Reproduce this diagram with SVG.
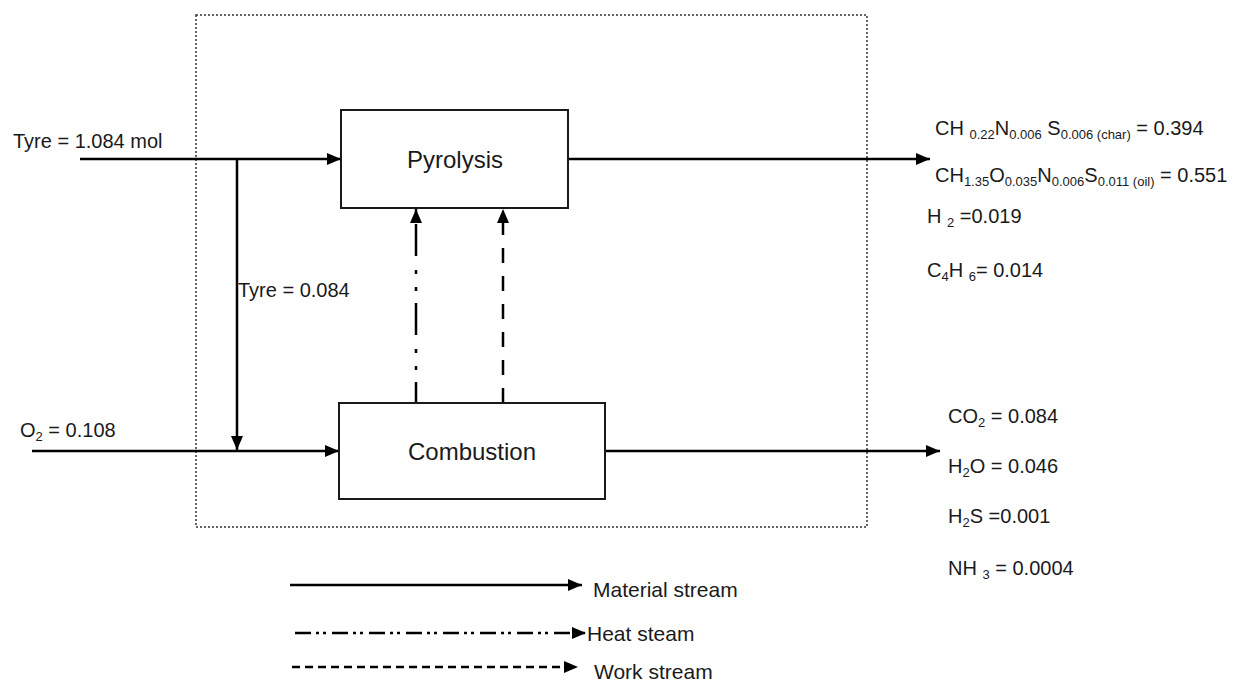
<svg xmlns="http://www.w3.org/2000/svg" width="1235" height="682" viewBox="0 0 1235 682">
<defs>
<marker id="ah" markerUnits="userSpaceOnUse" markerWidth="14" markerHeight="12" refX="14" refY="6" orient="auto"><path d="M0,0 L14,6 L0,12 z" fill="#000"/></marker>
<style>
text{font-family:"Liberation Sans",Arial,sans-serif;fill:#1a1a1a;font-size:20px}
.sub{font-size:13px}
.box{fill:#fff;stroke:#1a1a1a;stroke-width:2}
.flow{stroke:#000;stroke-width:2.5;fill:none}
.heat{stroke-dasharray:32 12 4 13 4 14}
.work{stroke-dasharray:15 13}
.lbl{font-size:24px}
.leg{font-size:21px}
</style>
</defs>
<rect width="1235" height="682" fill="#fff"/>
<rect id="boundary" x="196" y="15" width="671" height="512" fill="none" stroke="#333" stroke-width="1.5" stroke-dasharray="2 2"/>
<g id="connectors">
<line class="flow" x1="80" y1="159" x2="341" y2="159" marker-end="url(#ah)"/>
<line class="flow" x1="237" y1="159" x2="237" y2="450" marker-end="url(#ah)"/>
<line class="flow" x1="32" y1="451" x2="339" y2="451" marker-end="url(#ah)"/>
<line class="flow" x1="568" y1="159" x2="930" y2="159" marker-end="url(#ah)"/>
<line class="flow" x1="605" y1="451" x2="940" y2="451" marker-end="url(#ah)"/>
<line class="flow heat" x1="416" y1="403" x2="416" y2="209" stroke-dashoffset="11" marker-end="url(#ah)"/>
<line class="flow work" x1="503" y1="403" x2="503" y2="209" marker-end="url(#ah)"/>
</g>
<g id="pyrolysis">
<rect class="box" x="341" y="110" width="227" height="98"/>
<text class="lbl" x="455" y="168" text-anchor="middle">Pyrolysis</text>
</g>
<g id="combustion">
<rect class="box" x="339" y="403" width="266" height="96"/>
<text class="lbl" x="472" y="460" text-anchor="middle">Combustion</text>
</g>
<g id="inputs">
<text x="13" y="148" font-size="20.5">Tyre = 1.084 mol</text>
<text x="238" y="297">Tyre = 0.084</text>
<text x="20" y="437">O<tspan class="sub" dy="4">2</tspan><tspan dy="-4"> = 0.108</tspan></text>
</g>
<g id="pyrolysis-products">
<text x="935" y="135">CH <tspan class="sub" dy="4">0.22</tspan><tspan dy="-4">N</tspan><tspan class="sub" dy="4">0.006</tspan><tspan dy="-4"> S</tspan><tspan class="sub" dy="4">0.006 (char)</tspan><tspan dy="-4"> = 0.394</tspan></text>
<text x="935" y="182">CH<tspan class="sub" dy="4">1.35</tspan><tspan dy="-4">O</tspan><tspan class="sub" dy="4">0.035</tspan><tspan dy="-4">N</tspan><tspan class="sub" dy="4">0.006</tspan><tspan dy="-4">S</tspan><tspan class="sub" dy="4">0.011 (oil)</tspan><tspan dy="-4"> = 0.551</tspan></text>
<text x="927" y="223">H <tspan class="sub" dy="4">2</tspan><tspan dy="-4"> =0.019</tspan></text>
<text x="927" y="277">C<tspan class="sub" dy="4">4</tspan><tspan dy="-4">H </tspan><tspan class="sub" dy="4">6</tspan><tspan dy="-4">= 0.014</tspan></text>
</g>
<g id="combustion-products">
<text x="948" y="423">CO<tspan class="sub" dy="4">2</tspan><tspan dy="-4"> = 0.084</tspan></text>
<text x="948" y="473">H<tspan class="sub" dy="4">2</tspan><tspan dy="-4">O = 0.046</tspan></text>
<text x="948" y="523">H<tspan class="sub" dy="4">2</tspan><tspan dy="-4">S =0.001</tspan></text>
<text x="948" y="575">NH <tspan class="sub" dy="4">3</tspan><tspan dy="-4"> = 0.0004</tspan></text>
</g>
<g id="legend">
<line class="flow" x1="290" y1="585" x2="582" y2="585" marker-end="url(#ah)"/>
<text class="leg" x="593" y="597">Material stream</text>
<line class="flow" x1="295" y1="633" x2="586" y2="633" stroke-dasharray="16 5 3 4 3 6" marker-end="url(#ah)"/>
<text class="leg" x="587" y="641">Heat steam</text>
<line class="flow" x1="292" y1="667" x2="578" y2="667" stroke-dasharray="8 5" marker-end="url(#ah)"/>
<text class="leg" x="594" y="679">Work stream</text>
</g>
</svg>
